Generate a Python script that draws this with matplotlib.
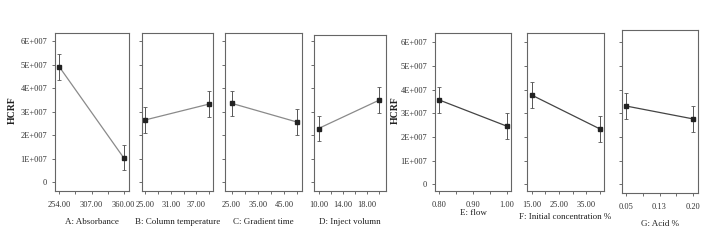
import matplotlib
matplotlib.use("Agg")
import matplotlib.pyplot as plt
from matplotlib.ticker import FixedLocator, NullFormatter

plt.rcParams['font.family'] = ['Liberation Serif', 'DejaVu Serif']

# factors: name, low/high levels, mean response at each level (x1e7)
factors = ["A: Absorbance", "B: Column temperature", "C: Gradient time", "D: Inject volumn",
           "E: flow", "F: Initial concentration %", "G: Acid %"]
levels = [[254, 360], [25, 40], [25, 50], [10, 20], [0.80, 1.00], [15, 40], [0.05, 0.20]]
means = [[4.90, 1.03], [2.64, 3.32], [3.35, 2.55], [2.28, 3.49],
         [3.56, 2.46], [3.77, 2.34], [3.31, 2.76]]
err = [[0.55, 0.53], [0.54, 0.54], [0.54, 0.54], [0.54, 0.54],
       [0.55, 0.54], [0.54, 0.54], [0.54, 0.54]]
ticks = [[254, 280.5, 307, 333.5, 360], [25, 28, 31, 34, 37, 40], [25, 30, 35, 40, 45, 50],
         [10, 12, 14, 16, 18, 20], [0.80, 0.85, 0.90, 0.95, 1.00], [15, 20, 25, 30, 35, 40],
         [0.05, 0.0875, 0.125, 0.1625, 0.20]]
tick_labels = [["254.00", "307.00", "360.00"], ["25.00", "31.00", "37.00"], ["25.00", "35.00", "45.00"],
               ["10.00", "14.00", "18.00"], ["0.80", "0.90", "1.00"], ["15.00", "25.00", "35.00"],
               ["0.05", "0.13", "0.20"]]
y_ticks = [0, 1, 2, 3, 4, 5, 6]
y_labels = ["0", "1E+007", "2E+007", "3E+007", "4E+007", "5E+007", "6E+007"]

# layout in pixels (left, right, top, bottom) and axis limits
W, H = 712, 249
boxes = [(55, 129, 33, 191), (142, 213, 33, 191), (225, 302, 33, 191), (314, 386, 35, 191),
         (435, 511, 33, 191), (527, 604, 33, 191), (622, 698, 30, 193)]
xlims = [(246.9, 368.7), (24.3, 40.86), (22.5, 51.8), (9.26, 21.1),
         (0.787, 1.013), (13.28, 41.5), (0.0418, 0.2104)]
ylims = [(-0.38, 6.34), (-0.38, 6.34), (-0.38, 6.34), (-0.38, 6.26),
         (-0.28, 6.39), (-0.28, 6.39), (-0.37, 6.52)]
line_cols = ["#8a8a8a"] * 4 + ["#444444"] * 3
label_y = [222, 222, 222, 222, 213, 217, 224]

fig = plt.figure(figsize=(W / 100, H / 100), dpi=100)

for i in range(7):
    l, r, t, b = boxes[i]
    ax = fig.add_axes([l / W, 1 - b / H, (r - l) / W, (b - t) / H])
    ax.plot(levels[i], means[i], color=line_cols[i], lw=0.9)
    ax.errorbar(levels[i], means[i], yerr=err[i], fmt='s', ms=2.5, color='#222222',
                ecolor='#555555', elinewidth=0.7, capsize=1.5, capthick=0.6)
    ax.set_xlim(xlims[i])
    ax.set_ylim(ylims[i])
    ax.xaxis.set_major_locator(FixedLocator(ticks[i]))
    ax.set_xticklabels([tick_labels[i][k // 2] if k % 2 == 0 else "" for k in range(len(ticks[i]))])
    ax.set_yticks(y_ticks)
    if i in (0, 4):
        ax.set_yticklabels(y_labels)
    else:
        ax.yaxis.set_major_formatter(NullFormatter())
    ax.tick_params(direction='out', length=2.5, width=0.6, colors='#555555',
                   labelsize=6, labelcolor='#333333', pad=3)
    ax.tick_params(axis='x', pad=5)
    for s in ax.spines.values():
        s.set_color('#666666')
        s.set_linewidth(0.8)
    cx = (l + r) / 2 / W
    fig.text(cx, 1 - label_y[i] / H, factors[i], ha='center', va='center',
             fontsize=6.5, color='#222222')

fig.text(12 / W, 1 - 110 / H, "HCRF", rotation=90, ha='center', va='center',
         fontsize=7, fontweight='bold', color='#222222')
fig.text(395 / W, 1 - 110 / H, "HCRF", rotation=90, ha='center', va='center',
         fontsize=7, fontweight='bold', color='#222222')

fig.savefig("out.png", dpi=100)
